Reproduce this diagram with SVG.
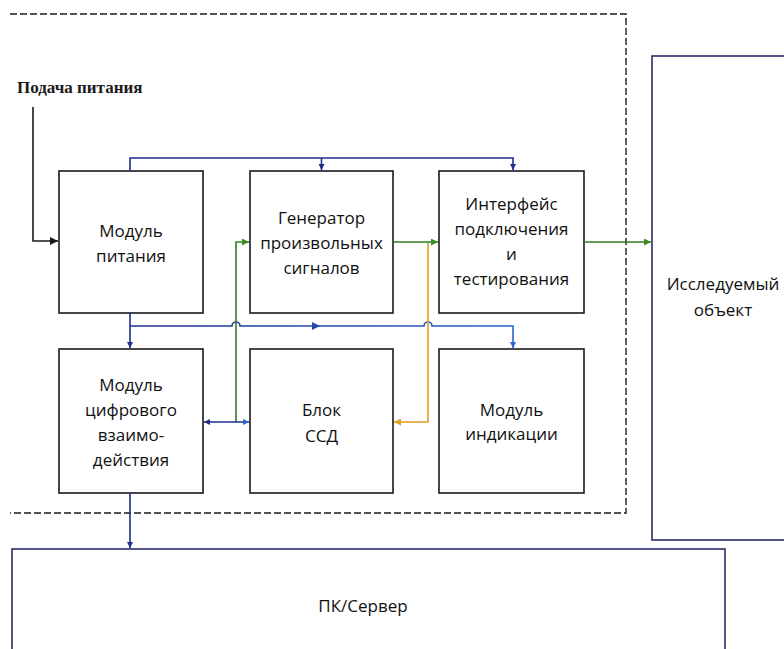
<svg xmlns="http://www.w3.org/2000/svg" width="784" height="649" viewBox="0 0 784 649">
<defs>
<style>
.box{fill:#fff;stroke:#1a1a1a;stroke-width:1.6}
.obj{fill:#fff;stroke:#2b2d6b;stroke-width:1.6}
.t{font-family:"Open Sans","Liberation Sans",sans-serif;font-size:17px;fill:#111;text-anchor:middle}
.c{fill:none;stroke-width:1.6}
.navy{stroke:#1e2f8a}
.blue{stroke:#2a62d4}
.green{stroke:#2f7d1c}
.orange{stroke:#e0a020}
.black{stroke:#1a1a1a}
</style>
<marker id="aNavy" viewBox="0 0 10 10" refX="10" refY="5" markerWidth="6" markerHeight="6" orient="auto-start-reverse" markerUnits="userSpaceOnUse"><path d="M0,0 L10,5 L0,10 z" fill="#1e2f8a"/></marker>
<marker id="aBlue" viewBox="0 0 10 10" refX="10" refY="5" markerWidth="6" markerHeight="6" orient="auto-start-reverse" markerUnits="userSpaceOnUse"><path d="M0,0 L10,5 L0,10 z" fill="#2a62d4"/></marker>
<marker id="aGreen" viewBox="0 0 10 10" refX="10" refY="5" markerWidth="7" markerHeight="7" orient="auto" markerUnits="userSpaceOnUse"><path d="M0,0 L10,5 L0,10 z" fill="#3a8f22"/></marker>
<marker id="aOrange" viewBox="0 0 10 10" refX="10" refY="5" markerWidth="7" markerHeight="7" orient="auto" markerUnits="userSpaceOnUse"><path d="M0,0 L10,5 L0,10 z" fill="#e0a020"/></marker>
<marker id="aBlack" viewBox="0 0 10 10" refX="10" refY="5" markerWidth="8" markerHeight="8" orient="auto" markerUnits="userSpaceOnUse"><path d="M0,0 L10,5 L0,10 z" fill="#1a1a1a"/></marker>
<linearGradient id="gBus" gradientUnits="userSpaceOnUse" x1="130" y1="0" x2="513" y2="0"><stop offset="0" stop-color="#1e2f8a"/><stop offset="1" stop-color="#2a62d4"/></linearGradient>
</defs>

<g id="frame">
<path d="M10,14 H626 V513 H10" fill="none" stroke="#1a1a1a" stroke-width="1.4" stroke-dasharray="7 3"/>
</g>

<g id="research-object">
<rect class="obj" x="652" y="56" width="150" height="484"/>
<text class="t" x="723" y="290">Исследуемый</text>
<text class="t" x="723" y="316">объект</text>
</g>

<g id="pc-server">
<rect class="obj" x="12" y="549" width="713" height="130"/>
<text class="t" x="363" y="612">ПК/Сервер</text>
</g>

<g id="power-label">
<text x="17" y="93" font-family="Liberation Serif,serif" font-size="17" font-weight="bold" fill="#1a1a1a">Подача питания</text>
</g>

<g id="power-module">
<rect class="box" x="59" y="171" width="144" height="142"/>
<text class="t" x="131" y="237">Модуль</text>
<text class="t" x="131" y="262">питания</text>
</g>

<g id="generator">
<rect class="box" x="250" y="171" width="143" height="142"/>
<text class="t" x="321.5" y="224">Генератор</text>
<text class="t" x="321.5" y="249">произвольных</text>
<text class="t" x="321.5" y="274">сигналов</text>
</g>

<g id="interface">
<rect class="box" x="439" y="171" width="145" height="142"/>
<text class="t" x="511.5" y="210">Интерфейс</text>
<text class="t" x="511.5" y="235">подключения</text>
<text class="t" x="511.5" y="260">и</text>
<text class="t" x="511.5" y="285">тестирования</text>
</g>

<g id="digital-module">
<rect class="box" x="59" y="349" width="144" height="144"/>
<text class="t" x="131" y="391">Модуль</text>
<text class="t" x="131" y="416">цифрового</text>
<text class="t" x="131" y="441">взаимо-</text>
<text class="t" x="131" y="466">действия</text>
</g>

<g id="ssd-block">
<rect class="box" x="250" y="349" width="143" height="144"/>
<text class="t" x="321.5" y="416">Блок</text>
<text class="t" x="321.5" y="442">ССД</text>
</g>

<g id="indication-module">
<rect class="box" x="439" y="349" width="145" height="144"/>
<text class="t" x="511.5" y="416">Модуль</text>
<text class="t" x="511.5" y="440">индикации</text>
</g>

<g id="connectors">
<path class="c black" d="M33,107 V241 H58" marker-end="url(#aBlack)"/>
<path class="c navy" d="M130,171 V158 H513 V170" marker-end="url(#aNavy)"/>
<path class="c navy" d="M321.5,158 V170" marker-end="url(#aNavy)"/>
<path class="c navy" d="M130,313 V348" marker-end="url(#aNavy)"/>
<path class="c" stroke="url(#gBus)" d="M130,326 H232 A4,4 0 0 1 240,326 H424 A4,4 0 0 1 432,326 H513 V348" marker-end="url(#aBlue)"/>
<path d="M312,322 L320,326 L312,330 z" fill="#2448b0"/>
<path class="c green" d="M236,422 V242 H249" marker-end="url(#aGreen)"/>
<path class="c navy" d="M204,422 H249" marker-start="url(#aNavy)" marker-end="url(#aBlue)"/>
<path class="c green" d="M393,242 H438" marker-end="url(#aGreen)"/>
<path class="c orange" d="M428,243 V422 H394" marker-end="url(#aOrange)"/>
<path class="c green" d="M584,242 H651" marker-end="url(#aGreen)"/>
<path class="c navy" d="M130,493 V548" marker-end="url(#aNavy)"/>
</g>
</svg>
